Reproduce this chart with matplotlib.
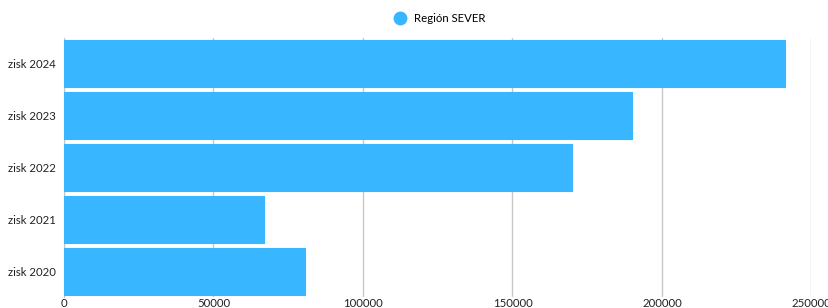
import matplotlib
matplotlib.use("Agg")
import matplotlib.pyplot as plt
from matplotlib.lines import Line2D

categories = ["zisk 2020", "zisk 2021", "zisk 2022", "zisk 2023", "zisk 2024"]
values = [80500, 67000, 170000, 190000, 241000]
series_name = "Región SEVER"
xticks = [0, 50000, 100000, 150000, 200000, 250000]

plt.rcParams['font.family'] = ['Lato', 'DejaVu Sans']
color = "#38b6ff"

fig = plt.figure(figsize=(8.29, 3.08), dpi=100)
ax = fig.add_axes([64/829, 1-297/308, (811.5-64)/829, (297-38)/308])

bars = ax.barh(range(len(categories)), values, height=0.91, color=color,
               edgecolor=color, linewidth=0.8, joinstyle='round', zorder=3)
ax.set_yticks(range(len(categories)))
ax.set_yticklabels(categories, fontsize=8.2, color="#222222")
ax.set_xticks(xticks)
ax.set_xticklabels([str(t) for t in xticks], fontsize=8.2, color="#222222")
ax.set_xlim(0, 250000)
ax.set_ylim(-0.5, 4.5)
ax.tick_params(axis='both', length=0)
ax.tick_params(axis='x', pad=1)
ax.tick_params(axis='y', pad=6)
ax.grid(axis='x', color="#c8c8c8", linewidth=1, zorder=0)
for s in ["top", "right", "bottom"]:
    ax.spines[s].set_visible(False)
ax.spines["left"].set_color("#c8c8c8")

handle = Line2D([], [], marker='o', linestyle='', markersize=9,
                markerfacecolor=color, markeredgecolor=color)
fig.legend([handle], [series_name], loc='center', bbox_to_anchor=(437/829, 1-18/308),
           frameon=False, fontsize=8.2, handletextpad=0.2, borderaxespad=0)

fig.savefig("out.png", dpi=100)
